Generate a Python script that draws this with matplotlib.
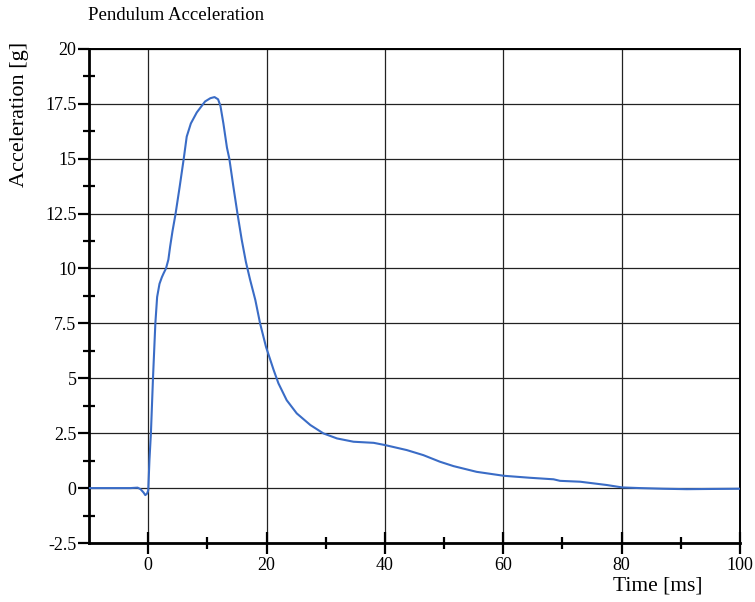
"""
 pendulum acceleration trace, redrawn from the scanned figure
"""

import numpy as np
import matplotlib.pyplot as plt
from matplotlib.ticker import FixedLocator, FormatStrFormatter

plt.rcParams['font.family'] = ['Liberation Serif', 'DejaVu Serif']

# values (time in ms, acceleration in g)
time_ms = [-10, -6, -3, -1.8, -1.3, -0.8, -0.5, -0.2, 0.0, 0.2, 0.45, 0.8, 1.2,
           1.5, 1.9, 2.3, 2.6, 3.0, 3.4, 3.7, 4.1, 4.6, 5.3, 6.0, 6.5, 7.2,
           8.2, 9.6, 10.5, 11.2, 11.8, 12.2, 12.7, 13.3, 13.7, 14.4, 15.1,
           15.8, 16.5, 17.2, 18.1, 18.9, 19.9, 21.2, 22.0, 23.4, 25.1, 27.4,
           29.6, 31.9, 34.7, 38.1, 40.0, 43.7, 46.5, 49.3, 51.6, 55.5, 60.1,
           64.5, 68.5, 69.6, 73.0, 77.5, 80.1, 83.1, 87, 91, 95, 100]
accel_g = [0.0, 0.0, 0.0, 0.02, -0.05, -0.2, -0.32, -0.25, -0.1, 1.27, 2.5,
           5.0, 7.5, 8.7, 9.3, 9.6, 9.78, 10.0, 10.4, 11.0, 11.7, 12.46, 13.7,
           15.0, 16.0, 16.6, 17.1, 17.6, 17.75, 17.8, 17.7, 17.4, 16.6, 15.5,
           15.0, 13.7, 12.46, 11.3, 10.3, 9.5, 8.56, 7.5, 6.43, 5.37, 4.77,
           4.0, 3.4, 2.87, 2.49, 2.26, 2.11, 2.06, 1.96, 1.73, 1.5, 1.2, 1.0,
           0.74, 0.56, 0.47, 0.4, 0.33, 0.29, 0.14, 0.03, 0.0, -0.03, -0.05,
           -0.04, -0.03]

x_major = [0, 20, 40, 60, 80, 100]
x_minor = [10, 30, 50, 70, 90]
y_major = np.arange(-2.5, 20.1, 2.5)
y_minor = np.arange(-1.25, 20, 2.5)

fig = plt.figure(figsize=(7.55, 6.02), dpi=100)
ax = fig.add_axes([0.118, 0.098, 0.862, 0.821])

ax.plot(time_ms, accel_g, color="#3a6cc6", linewidth=1.5, zorder=3)

ax.set_xlim(-10, 100)
ax.set_ylim(-2.5, 20)

ax.xaxis.set_major_locator(FixedLocator(x_major))
ax.xaxis.set_minor_locator(FixedLocator(x_minor))
ax.yaxis.set_major_locator(FixedLocator(y_major))
ax.yaxis.set_minor_locator(FixedLocator(y_minor))
ax.yaxis.set_major_formatter(FormatStrFormatter("%g"))
ax.grid(True, which="major", color="#222222", linewidth=0.9)

ax.tick_params(axis="x", which="major", direction="inout", length=16, width=1.6,
               labelsize=13, pad=2)
ax.tick_params(axis="x", which="minor", direction="inout", length=9, width=1.6)
ax.tick_params(axis="y", which="major", direction="out", length=8, width=1.6,
               labelsize=13, pad=1)
ax.tick_params(axis="y", which="minor", direction="inout", length=8, width=1.6)

for side in ["left", "bottom"]:
    ax.spines[side].set_linewidth(2.0)
for side in ["top", "right"]:
    ax.spines[side].set_linewidth(1.4)

fig.text(0.117, 0.975, "Pendulum Acceleration", fontsize=13.5, ha="left", va="center")
fig.text(0.026, 0.81, "Acceleration [g]", fontsize=16, rotation=90, ha="center", va="center")
fig.text(0.931, 0.027, "Time [ms]", fontsize=15.5, ha="right", va="center")

plt.savefig("out.png", dpi=100)
